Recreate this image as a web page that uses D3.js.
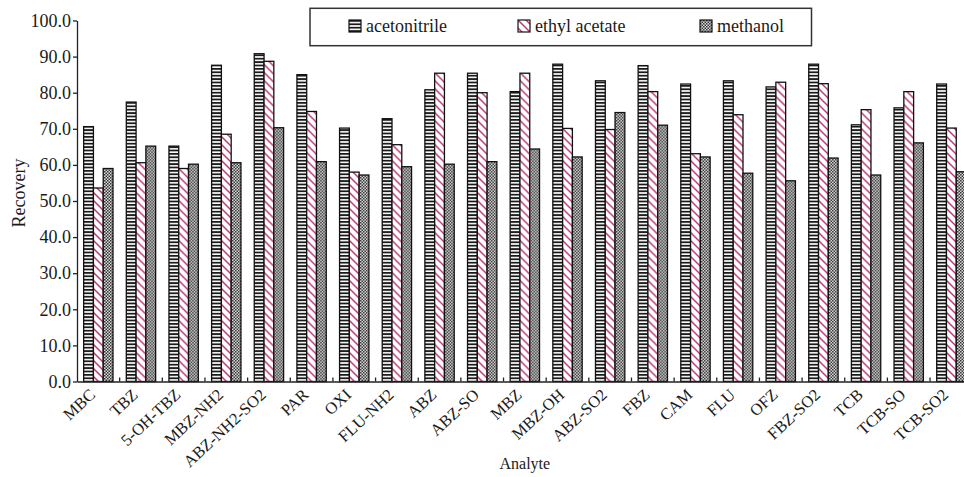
<!DOCTYPE html>
<html>
<head>
<meta charset="utf-8">
<script src="https://cdn.jsdelivr.net/npm/d3@7"></script>
<style>
  html, body { margin: 0; padding: 0; background: #fff; }
  svg { display: block; }
</style>
</head>
<body>
<svg id="chart" width="964" height="477"></svg>
<script>
const categories = ["MBC", "TBZ", "5-OH-TBZ", "MBZ-NH2", "ABZ-NH2-SO2", "PAR", "OXI", "FLU-NH2", "ABZ", "ABZ-SO", "MBZ", "MBZ-OH", "ABZ-SO2", "FBZ", "CAM", "FLU", "OFZ", "FBZ-SO2", "TCB", "TCB-SO", "TCB-SO2"];
const seriesNames = ["acetonitrile", "ethyl acetate", "methanol"];
const acetonitrile = [70.6, 77.4, 65.2, 87.6, 90.8, 85.0, 70.2, 72.8, 80.8, 85.4, 80.3, 87.9, 83.3, 87.5, 82.4, 83.3, 81.6, 87.9, 71.1, 75.8, 82.4];
const ethylAcetate = [53.6, 60.6, 59.0, 68.5, 88.7, 74.8, 58.0, 65.6, 85.4, 80.0, 85.4, 70.1, 69.8, 80.3, 63.1, 73.9, 82.9, 82.5, 75.3, 80.3, 70.2];
const methanol = [59.0, 65.2, 60.2, 60.6, 70.3, 60.9, 57.2, 59.5, 60.2, 60.9, 64.4, 62.2, 74.5, 71.0, 62.2, 57.7, 55.6, 61.9, 57.2, 66.1, 58.1];
const yTicks = [0, 10, 20, 30, 40, 50, 60, 70, 80, 90, 100];

const FONT = "'Liberation Serif', 'Times New Roman', serif";
const TXT = "#1a1a1a";
const seriesValues = [acetonitrile, ethylAcetate, methanol];
const svg = d3.select("#chart");
const defs = svg.append("defs");

// Patterns
const pA = defs.append("pattern").attr("id", "pat-acn").attr("patternUnits", "userSpaceOnUse")
  .attr("width", 4).attr("height", 3.4);
pA.append("rect").attr("width", 4).attr("height", 3.4).attr("fill", "#ffffff");
pA.append("rect").attr("width", 4).attr("height", 1.8).attr("fill", "#1a1a1a");

const pE = defs.append("pattern").attr("id", "pat-eth").attr("patternUnits", "userSpaceOnUse")
  .attr("width", 8).attr("height", 8);
pE.append("rect").attr("width", 8).attr("height", 8).attr("fill", "#ffffff");
pE.append("path").attr("d", "M0,0L8,8M-1,7L1,9M7,-1L9,1")
  .attr("stroke", "#c0306e").attr("stroke-width", 1.4);

const pM = defs.append("pattern").attr("id", "pat-met").attr("patternUnits", "userSpaceOnUse")
  .attr("width", 3).attr("height", 3);
pM.append("rect").attr("width", 3).attr("height", 3).attr("fill", "#dcdcdc");
pM.append("rect").attr("x", 0).attr("y", 0).attr("width", 1.5).attr("height", 1.5).attr("fill", "#333");
pM.append("rect").attr("x", 1.5).attr("y", 1.5).attr("width", 1.5).attr("height", 1.5).attr("fill", "#333");

const fills = ["url(#pat-acn)", "url(#pat-eth)", "url(#pat-met)"];

const x = d3.scaleBand().domain(categories).range([77, 972.7]).paddingInner(0).paddingOuter(0);
const xSub = d3.scaleBand().domain(seriesNames).range([0, x.bandwidth()]).paddingInner(0).paddingOuter(0.68);
const y = d3.scaleLinear().domain([0, 100]).range([381.5, 20.5]);

// Bars
const groups = svg.append("g").selectAll("g").data(categories).join("g")
  .attr("transform", d => `translate(${x(d)},0)`);
groups.selectAll("rect")
  .data((d, i) => seriesNames.map((s, k) => ({ s, k, v: seriesValues[k][i] })))
  .join("rect")
  .attr("x", d => xSub(d.s))
  .attr("width", xSub.bandwidth())
  .attr("y", d => y(d.v))
  .attr("height", d => y(0) - y(d.v))
  .attr("fill", d => fills[d.k])
  .attr("stroke", "#111")
  .attr("stroke-width", 1.3);

// Y axis
const yAxis = svg.append("g").attr("transform", "translate(77,0)")
  .call(d3.axisLeft(y).tickValues(yTicks).tickFormat(d3.format(".1f")).tickSize(4).tickSizeOuter(0).tickPadding(2));
yAxis.attr("font-family", FONT).attr("font-size", 18);
yAxis.selectAll("text").attr("fill", TXT).attr("font-family", FONT).attr("font-size", 18);
yAxis.selectAll("line, path").attr("stroke", "#222").attr("stroke-width", 1.3);

// X axis line
const xAxis = svg.append("g").attr("transform", `translate(0,${y(0)})`)
  .call(d3.axisBottom(x).tickSize(0).tickSizeOuter(0).tickFormat(""));
xAxis.select("path.domain").attr("stroke", "#222").attr("stroke-width", 1.3);

// boundary ticks (inward)
svg.append("g").selectAll("line").data(categories).join("line")
  .attr("x1", d => x(d) + x.bandwidth()).attr("x2", d => x(d) + x.bandwidth())
  .attr("y1", y(0)).attr("y2", y(0) - 4)
  .attr("stroke", "#222").attr("stroke-width", 1.3);

// x labels
svg.append("g").selectAll("text").data(categories).join("text")
  .attr("transform", d => `translate(${x(d) + x.bandwidth() / 2 - 2},396) rotate(-43)`)
  .attr("text-anchor", "end")
  .attr("font-family", FONT).attr("font-size", 16.5).attr("fill", TXT)
  .text(d => d);

// Axis titles
svg.append("text").attr("x", (x.range()[0] + x.range()[1]) / 2).attr("y", 469)
  .attr("text-anchor", "middle").attr("font-family", FONT).attr("font-size", 16).attr("fill", TXT)
  .text("Analyte");
svg.append("text").attr("transform", "translate(25,193) rotate(-90)")
  .attr("text-anchor", "middle").attr("font-family", FONT).attr("font-size", 18).attr("fill", TXT)
  .text("Recovery");

// Legend
const legend = svg.append("g");
legend.append("rect").attr("x", 310).attr("y", 8.3).attr("width", 501.5).attr("height", 37.4)
  .attr("fill", "#fff").attr("stroke", "#333").attr("stroke-width", 1.5);
const legX = [349, 518, 700];
const legItems = legend.selectAll("g.item").data(seriesNames).join("g").attr("class", "item")
  .attr("transform", (d, i) => `translate(${legX[i]},20)`);
legItems.append("rect").attr("width", 12).attr("height", 12)
  .attr("fill", (d, i) => fills[i]).attr("stroke", "#111").attr("stroke-width", 1.2);
legItems.append("text").attr("x", 17).attr("y", 12)
  .attr("font-family", FONT).attr("font-size", 18).attr("fill", TXT)
  .text(d => d);
</script>
</body>
</html>
